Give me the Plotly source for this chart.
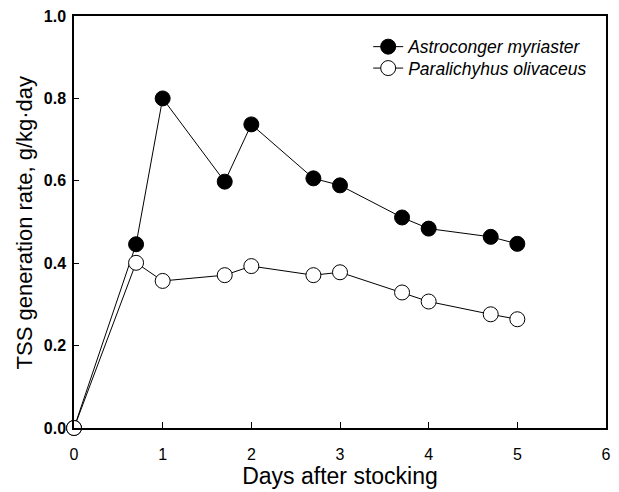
import plotly.graph_objects as go

days = [0, 0.7, 1, 1.7, 2, 2.7, 3, 3.7, 4, 4.7, 5]
astroconger = [0.0, 0.446, 0.80, 0.598, 0.737, 0.606, 0.589, 0.511, 0.484, 0.464, 0.447]
paralichthys = [0.0, 0.401, 0.357, 0.371, 0.393, 0.371, 0.378, 0.329, 0.307, 0.276, 0.264]
x_ticks = [0, 1, 2, 3, 4, 5, 6]
y_ticks = [0.0, 0.2, 0.4, 0.6, 0.8, 1.0]

FONT = "Liberation Sans, Arial, sans-serif"

fig = go.Figure()
fig.add_trace(go.Scatter(
    x=days, y=astroconger, mode="lines+markers", name="Astroconger myriaster",
    line=dict(color="black", width=1),
    marker=dict(symbol="circle", size=15, color="black", line=dict(color="black", width=1)),
    cliponaxis=False, legend="legend",
))
fig.add_trace(go.Scatter(
    x=days, y=paralichthys, mode="lines+markers", name="Paralichyhus olivaceus",
    line=dict(color="black", width=1),
    marker=dict(symbol="circle", size=15, color="white", line=dict(color="black", width=1)),
    cliponaxis=False, legend="legend2",
))

legend_common = dict(
    xanchor="left", yanchor="top",
    bgcolor="rgba(0,0,0,0)", borderwidth=0,
    font=dict(family=FONT, size=17.5, style="italic"),
)

fig.update_layout(
    width=619, height=492,
    margin=dict(l=74, r=8, t=16, b=55),
    paper_bgcolor="white", plot_bgcolor="white",
    font=dict(family=FONT, color="black"),
    showlegend=True,
    legend=dict(x=0.553, y=0.969, **legend_common),
    legend2=dict(x=0.553, y=0.917, **legend_common),
    xaxis=dict(
        range=[0, 6.0001], tickvals=x_ticks, ticks="inside", ticklen=6, tickwidth=1,
        tickcolor="black", showline=True, linecolor="black", linewidth=1.5, mirror=True,
        showgrid=False, zeroline=False, ticklabeloverflow="allow", ticklabelstandoff=11,
        tickfont=dict(family=FONT, size=16),
        title=dict(text="Days after stocking", font=dict(family=FONT, size=23), standoff=5),
    ),
    yaxis=dict(
        range=[0, 1.0001], tickvals=y_ticks, tickformat=".1f", ticks="inside", ticklen=5, tickwidth=1,
        tickcolor="black", showline=True, linecolor="black", linewidth=1.5, mirror=True,
        showgrid=False, zeroline=False, ticklabeloverflow="allow", ticklabelstandoff=3,
        tickfont=dict(family=FONT, size=16, weight="bold"),
    ),
    annotations=[dict(
        text="TSS generation rate, g/kg·day", xref="paper", yref="paper",
        x=-0.0931, y=0.5, xanchor="center", yanchor="middle", textangle=-90,
        showarrow=False, font=dict(family=FONT, size=22),
    )],
)

fig.write_html(
    "out.html",
    config={"displayModeBar": False},
    post_script="document.body.style.margin='0';document.body.style.overflow='hidden';",
)
